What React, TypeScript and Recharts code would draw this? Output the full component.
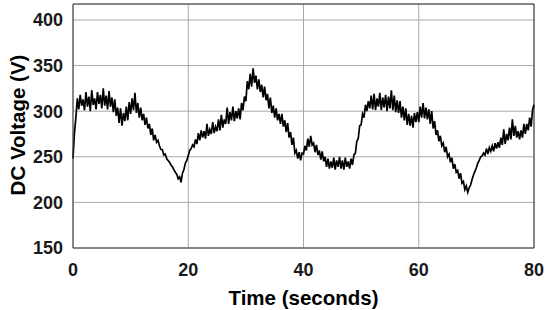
import { LineChart, Line, XAxis, YAxis, CartesianGrid, ReferenceLine } from 'recharts'

// DC link voltage, sampled every 0.25 s (one row = 5 s)
const sampleStep = 0.25
const voltage = [
  248, 276, 293, 314, 302, 318, 306, 313, 301, 321, 305, 316, 300, 323, 307, 314, 302, 321, 308, 318,
  303, 325, 306, 317, 302, 322, 305, 315, 299, 313, 295, 304, 287, 303, 284, 298, 289, 305, 290, 310,
  297, 314, 301, 320, 298, 309, 293, 304, 290, 297, 285, 293, 281, 286, 274, 281, 268, 274, 266, 268,
  262, 258, 258, 252, 253, 248, 246, 244, 241, 239, 236, 233, 231, 226, 228, 222, 232, 236, 243, 246,
  251, 257, 259, 263, 261, 269, 264, 276, 268, 279, 271, 278, 270, 286, 273, 280, 275, 288, 276, 283,
  278, 291, 279, 296, 282, 291, 286, 304, 286, 299, 290, 305, 289, 300, 292, 303, 291, 309, 301, 316,
  311, 333, 324, 341, 327, 347, 331, 339, 324, 335, 321, 329, 315, 327, 312, 319, 303, 315, 298, 306,
  293, 303, 290, 297, 286, 297, 283, 290, 277, 287, 271, 277, 263, 271, 254, 257, 248, 255, 246, 254,
  253, 262, 257, 270, 261, 273, 263, 265, 255, 263, 252, 257, 247, 256, 245, 250, 239, 248, 237, 245,
  238, 249, 236, 246, 239, 250, 237, 246, 236, 249, 239, 245, 237, 248, 241, 252, 254, 267, 270, 284,
  285, 297, 293, 307, 300, 311, 303, 317, 302, 319, 301, 314, 305, 320, 301, 315, 304, 318, 300, 316,
  303, 323, 301, 317, 299, 312, 298, 311, 293, 305, 290, 303, 285, 297, 284, 295, 282, 298, 288, 299,
  288, 305, 293, 309, 292, 304, 291, 302, 286, 300, 281, 289, 274, 279, 267, 273, 262, 265, 255, 261,
  250, 253, 244, 249, 237, 242, 233, 235, 226, 232, 221, 223, 214, 218, 211, 216, 219, 225, 230, 234,
  238, 243, 246, 250, 251, 254, 252, 259, 253, 260, 256, 262, 256, 265, 259, 266, 260, 271, 263, 280,
  264, 275, 268, 282, 269, 291, 273, 284, 271, 278, 269, 279, 271, 286, 275, 286, 279, 293, 283, 301,
  307,
]

const xTicks = [0, 20, 40, 60, 80]
const yTicks = [150, 200, 250, 300, 350, 400]
const yMin = 150
const yMax = 417.5

const data = voltage.map((v, i) => ({ t: i * sampleStep, v }))

const tickStyle = { fontSize: 18, fontWeight: 700, fill: '#1a1a1a', fontFamily: 'Liberation Sans, Arial, sans-serif' }
const labelFont = { fontSize: 20.5, fontWeight: 700, fill: '#000', fontFamily: 'Liberation Sans, Arial, sans-serif' }

export default function App() {
  return (
    <div style={{ position: 'absolute', left: 0, top: 0, background: '#fff' }}>
      <LineChart width={550} height={310} data={data} margin={{ top: 4, right: 16, bottom: 0, left: 0 }}>
        <CartesianGrid stroke="#a8a8a8" strokeWidth={1} />
        <XAxis
          dataKey="t"
          type="number"
          domain={[0, 80]}
          ticks={xTicks}
          height={62}
          tickSize={0}
          tickMargin={15}
          tick={tickStyle}
          axisLine={{ stroke: '#3a3a3a' }}
          tickLine={false}
          label={{
            content: () => (
              <text x={303.5} y={305} textAnchor="middle" style={labelFont}>Time (seconds)</text>
            ),
          }}
        />
        <YAxis
          type="number"
          domain={[yMin, yMax]}
          ticks={yTicks}
          width={73}
          tickSize={0}
          tickMargin={10}
          tick={tickStyle}
          axisLine={{ stroke: '#3a3a3a' }}
          tickLine={false}
          allowDataOverflow
          label={{
            content: () => (
              <text x={24.5} y={125} transform="rotate(-90, 24.5, 125)" textAnchor="middle" style={labelFont}>DC Voltage (V)</text>
            ),
          }}
        />
        <ReferenceLine x={80} stroke="#3a3a3a" />
        <ReferenceLine y={yMax} stroke="#3a3a3a" />
        <Line type="linear" dataKey="v" stroke="#000" strokeWidth={1.7} dot={false} isAnimationActive={false} />
      </LineChart>
    </div>
  )
}
